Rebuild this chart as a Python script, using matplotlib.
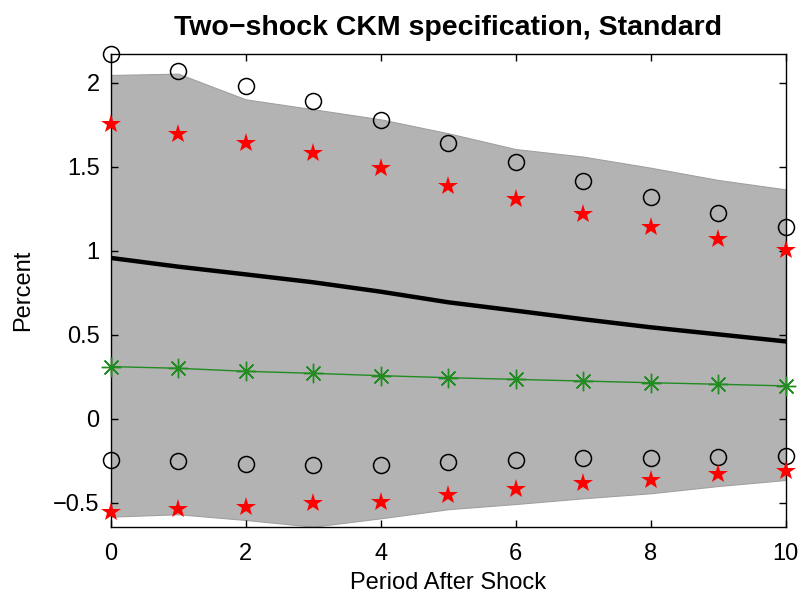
import matplotlib
matplotlib.use('Agg')
import matplotlib.pyplot as plt
import numpy as np

plt.rcParams['font.family'] = ['Liberation Sans', 'DejaVu Sans']

periods = np.arange(11)

band_upper = [2.046, 2.054, 1.901, 1.842, 1.782, 1.699, 1.605, 1.560, 1.494, 1.421, 1.365]
band_lower = [-0.583, -0.569, -0.603, -0.643, -0.593, -0.539, -0.508, -0.474, -0.444, -0.401, -0.365]

circles_upper = [2.169, 2.070, 1.980, 1.889, 1.778, 1.639, 1.530, 1.415, 1.318, 1.224, 1.141]
circles_lower = [-0.248, -0.252, -0.268, -0.274, -0.274, -0.258, -0.248, -0.236, -0.236, -0.226, -0.222]

stars_upper = [1.752, 1.696, 1.639, 1.583, 1.494, 1.385, 1.308, 1.220, 1.139, 1.068, 1.004]
stars_lower = [-0.557, -0.539, -0.524, -0.504, -0.494, -0.454, -0.418, -0.385, -0.365, -0.331, -0.310]

mean_response = [0.957, 0.905, 0.859, 0.812, 0.756, 0.693, 0.643, 0.592, 0.544, 0.502, 0.460]
green_response = [0.310, 0.300, 0.282, 0.270, 0.256, 0.244, 0.234, 0.224, 0.214, 0.205, 0.195]

xticks = [0, 2, 4, 6, 8, 10]
yticks = [-0.5, 0, 0.5, 1, 1.5, 2]
ytick_labels = ['\u22120.5', '0', '0.5', '1', '1.5', '2']

fig = plt.figure(figsize=(8.05, 5.95), dpi=100)
ax = fig.add_axes([0.1375, 0.1148, 0.8385, 0.7939])

ax.fill_between(periods, band_lower, band_upper, facecolor='#b3b3b3', edgecolor='#a0a0a0', linewidth=0.8)

ax.plot(periods, circles_upper, 'o', mfc='none', mec='black', ms=11.5, mew=1.1, clip_on=False, zorder=4)
ax.plot(periods, circles_lower, 'o', mfc='none', mec='black', ms=11.5, mew=1.1, clip_on=False, zorder=4)
ax.plot(periods, stars_upper, '*', color='red', ms=15, mew=0, clip_on=False, zorder=4)
ax.plot(periods, stars_lower, '*', color='red', ms=15, mew=0, clip_on=False, zorder=4)

ax.plot(periods, mean_response, color='black', linewidth=3.2, zorder=5)
ax.plot(periods, green_response, color='#228b22', linewidth=1.0, marker=(8, 2, 0), ms=14, mew=1.0,
        clip_on=False, zorder=5)

ax.set_xlim(0, 10)
ax.set_ylim(-0.643, 2.169)
ax.set_xticks(xticks)
ax.set_xticklabels([str(t) for t in xticks])
ax.set_yticks(yticks)
ax.set_yticklabels(ytick_labels)
ax.tick_params(direction='in', length=5, width=1, top=True, right=True, labelsize=17)
ax.tick_params(axis='x', pad=12)
ax.tick_params(axis='y', pad=8)
for s in ax.spines.values():
    s.set_linewidth(1.0)

ax.set_title('Two\u2212shock CKM specification, Standard', fontsize=20.5, fontweight='bold', pad=14)
ax.set_xlabel('Period After Shock', fontsize=17, labelpad=5)
ax.set_ylabel('Percent', fontsize=17, labelpad=14)

fig.savefig('out.png', dpi=100)
